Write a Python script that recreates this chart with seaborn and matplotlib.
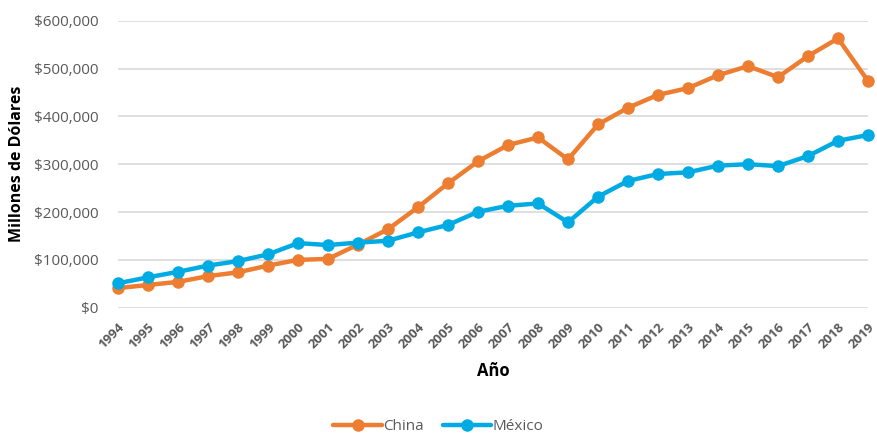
import matplotlib
matplotlib.use("Agg")
import matplotlib.pyplot as plt
import seaborn as sns
import pandas as pd
from matplotlib.ticker import FuncFormatter
from matplotlib.lines import Line2D

years = list(range(1994, 2020))
china = [41000, 47500, 54000, 66000, 74000, 88000, 100000, 102000, 132000, 164000,
         210000, 260000, 306000, 340000, 356000, 310000, 383000, 418000, 445000, 459000,
         486000, 505000, 482000, 526000, 563000, 474000]
mexico = [51000, 63500, 75000, 88000, 97500, 111500, 135000, 131000, 136000, 140000,
          157500, 173000, 200500, 213000, 218000, 178500, 232000, 265000, 279500, 283000,
          297000, 300000, 296000, 317000, 349000, 361000]
series_names = ["China", "México"]
colors = {"China": "#ED7D31", "México": "#00ABE4"}

df = pd.DataFrame({
    "Año": years * 2,
    "valor": china + mexico,
    "país": ["China"] * len(years) + ["México"] * len(years),
})

sns.set_theme(style="white")
plt.rcParams["font.family"] = ["Open Sans", "DejaVu Sans"]

fig = plt.figure(figsize=(8.77, 4.33), dpi=100)
left_px, right_px = 118, 868
ax = fig.add_axes([left_px / 877, 1 - 307.7 / 433, (right_px - left_px) / 877, (307.7 - 20.7) / 433])

sns.lineplot(data=df, x="Año", y="valor", hue="país", palette=colors,
             marker="o", markersize=9, markeredgewidth=0, linewidth=3.2,
             ax=ax, legend=False)
for ln in ax.lines:
    ln.set_clip_on(False)

ax.set_xlim(1994, 2019)
ax.set_ylim(0, 600000)
ax.set_yticks(range(0, 600001, 100000))
ax.yaxis.set_major_formatter(FuncFormatter(lambda v, p: f"${v:,.0f}"))
ax.set_xticks(years)
ax.set_xticklabels([str(y) for y in years], rotation=45, ha="right",
                   rotation_mode="anchor", fontweight="bold")
ax.grid(axis="y", color="#D9D9D9", linewidth=1.2)
ax.set_axisbelow(True)
for s in ax.spines.values():
    s.set_visible(False)
ax.tick_params(axis="y", labelsize=11, labelcolor="#595959", length=0, pad=14)
ax.tick_params(axis="x", labelsize=9.5, labelcolor="#595959", length=0, pad=9)

ax.set_xlabel("Año", fontsize=12, fontweight="bold", color="black", labelpad=8)
ax.set_ylabel("Millones de Dólares", fontsize=11.5, fontweight="bold", color="black")
ax.yaxis.set_label_coords((25 - left_px) / (right_px - left_px), 0.5)

handles = [Line2D([0], [0], color=colors[n], lw=3.2, marker="o", markersize=9,
                  markeredgewidth=0) for n in series_names]
fig.legend(handles, series_names, loc="center", bbox_to_anchor=(0.5, 1 - 427 / 433),
           ncol=2, frameon=False, fontsize=11, handlelength=3.2, handletextpad=0.1,
           columnspacing=1.2, labelcolor="#595959")

fig.savefig("out.png", dpi=100)
